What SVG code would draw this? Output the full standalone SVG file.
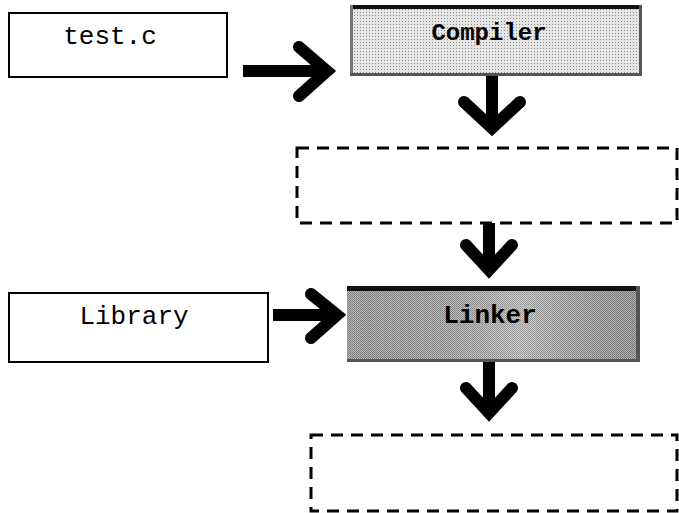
<svg xmlns="http://www.w3.org/2000/svg" width="679" height="513" viewBox="0 0 679 513">
<style>
.box{fill:#fff;stroke:#000;stroke-width:2}
.dash{fill:none;stroke:#000;stroke-width:3;stroke-dasharray:12 8}
.lbl{font-family:"Liberation Mono","Courier New",monospace;font-size:26px;fill:#000;text-anchor:middle}
.bold{font-weight:bold}
.arr{fill:none;stroke:#000;stroke-width:12;stroke-linecap:round;stroke-linejoin:miter}
.shaft{fill:none;stroke:#000;stroke-width:12}
</style>
<defs>
<pattern id="dotLight" width="3" height="3" patternUnits="userSpaceOnUse">
<rect width="3" height="3" fill="#e6e6e6"/>
<rect width="1" height="1" fill="#8a8a8a"/>
</pattern>
<pattern id="dotDark" width="2" height="2" patternUnits="userSpaceOnUse">
<rect width="2" height="2" fill="#c4c4c4"/>
<rect width="1" height="1" fill="#7a7a7a"/>
<rect x="1" y="1" width="1" height="1" fill="#8c8c8c"/>
</pattern>
<linearGradient id="lnkShade" x1="0" y1="0" x2="1" y2="0">
<stop offset="0" stop-color="#000" stop-opacity="0.05"/>
<stop offset="0.6" stop-color="#fff" stop-opacity="0.2"/>
<stop offset="1" stop-color="#000" stop-opacity="0.1"/>
</linearGradient>
</defs>
<g id="test-c">
<rect class="box" x="9" y="13" width="218" height="64"/>
<text class="lbl" x="110" y="44">test.c</text>
</g>
<g id="compiler">
<rect x="350" y="5" width="292" height="71" fill="url(#dotLight)"/>
<rect x="350" y="5" width="292" height="4" fill="#111"/>
<rect x="350" y="5" width="3" height="71" fill="#777"/>
<rect x="639" y="5" width="3" height="71" fill="#555"/>
<rect x="350" y="73" width="292" height="3" fill="#555"/>
<text class="lbl bold" x="489" y="40" style="font-size:24px">Compiler</text>
</g>
<g id="intermediate1">
<rect class="dash" x="297" y="148" width="380" height="75"/>
</g>
<g id="library">
<rect class="box" x="9" y="293" width="259" height="69"/>
<text class="lbl" x="134" y="324">Library</text>
</g>
<g id="linker">
<rect x="347" y="286" width="293" height="76" fill="url(#dotDark)"/>
<rect x="347" y="286" width="293" height="76" fill="url(#lnkShade)"/>
<rect x="347" y="286" width="293" height="5" fill="#111"/>
<rect x="636" y="286" width="4" height="76" fill="#555"/>
<rect x="347" y="359" width="293" height="3" fill="#555"/>
<text class="lbl bold" x="490" y="323">Linker</text>
</g>
<g id="intermediate2">
<rect class="dash" x="311" y="435" width="366" height="76"/>
</g>
<g id="connectors">
<line class="shaft" x1="243" y1="71" x2="326" y2="71"/>
<polyline class="arr" points="299,47 327,71 299,96"/>
<line class="shaft" x1="492" y1="76" x2="492" y2="128"/>
<polyline class="arr" points="464,102 492,128 520,102"/>
<line class="shaft" x1="489" y1="223" x2="489" y2="270"/>
<polyline class="arr" points="466,245 489,270 512,245"/>
<line class="shaft" x1="273" y1="315" x2="337" y2="315"/>
<polyline class="arr" points="311,294 337,315 311,338"/>
<line class="shaft" x1="489" y1="362" x2="489" y2="413"/>
<polyline class="arr" points="466,388 489,413 512,388"/>
</g>
</svg>
